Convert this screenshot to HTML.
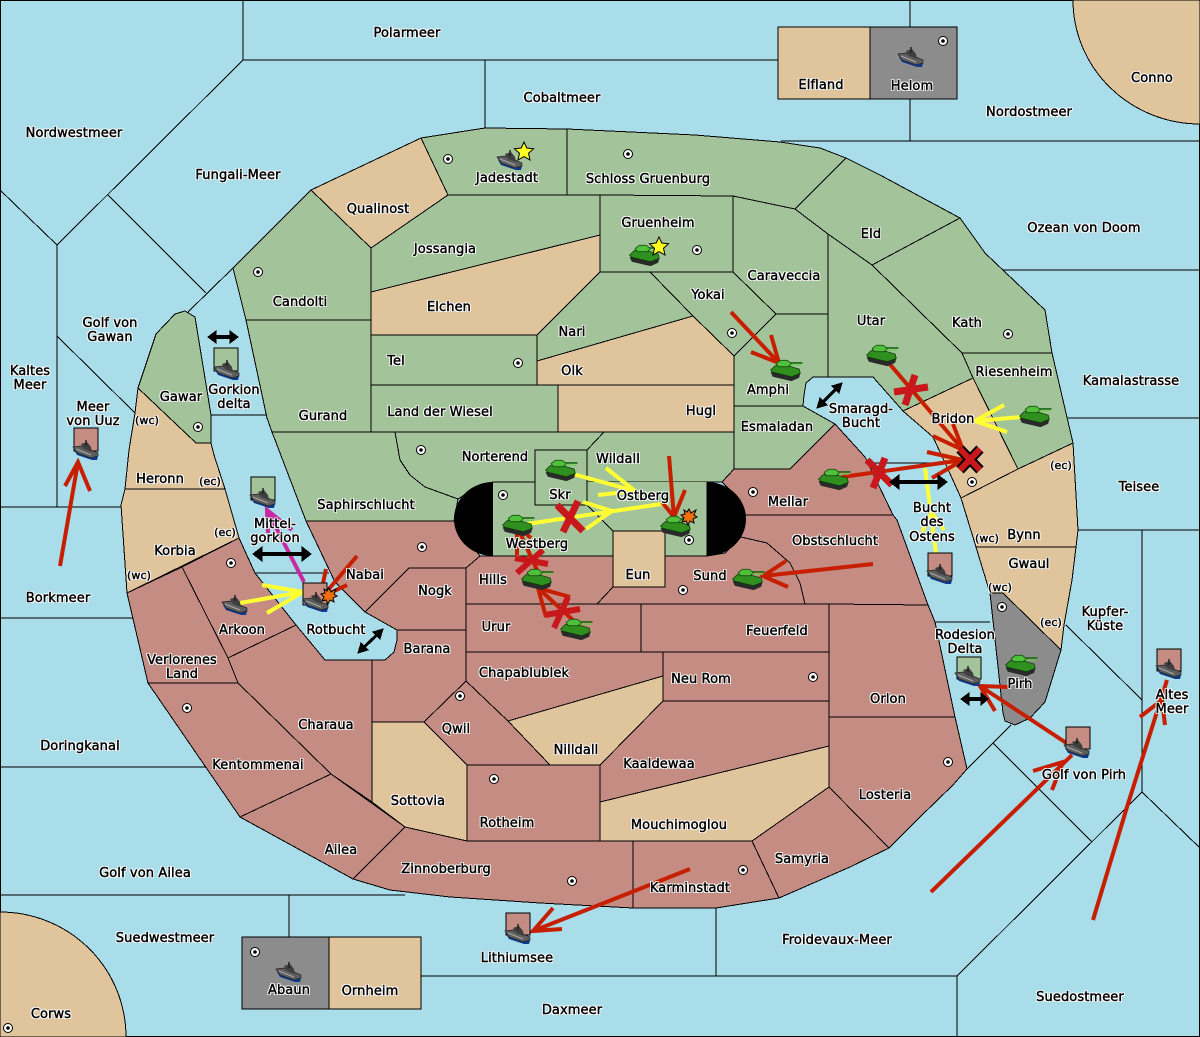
<!DOCTYPE html>
<html><head><meta charset="utf-8"><style>
html,body{margin:0;padding:0;background:#a8dde9}
#m{position:relative;width:1200px;height:1037px;overflow:hidden;font-family:"DejaVu Sans","Liberation Sans",sans-serif}
svg{position:absolute;left:0;top:0}
#l span{position:absolute;transform:translate(-50%,calc(-50% + 2px));font-size:13px;letter-spacing:.1px;line-height:14px;white-space:nowrap;color:#000;-webkit-text-stroke:.45px #000;text-shadow:1px 0 #fff,-1px 0 #fff,0 1px #fff,0 -1px #fff,1px 1px #fff,-1px -1px #fff,1px -1px #fff,-1px 1px #fff}
.g polygon{fill:#a3c49a}.t polygon{fill:#e0c49c}.r polygon{fill:#c48c82}.k polygon{fill:#8c8c8c}
.a path{fill:none;stroke-width:4}
</style></head><body><div id="m">
<svg width="1200" height="1037" viewBox="0 0 1200 1037" xmlns="http://www.w3.org/2000/svg">
<defs>
<g id="sc"><circle r="4.5" fill="#fff" stroke="#000"/><circle r="1.8" fill="#000"/></g>
<g id="tank" transform="scale(1.1)"><polygon points="-14,3 -12,7 5,11 12,8 13,4 0,1" fill="#2a2a2a"/><polygon points="-14,1 -10,-3 -2,-4 12,0 13,4 5,7 -12,3" fill="#2f8f1f" stroke="#0c3a08" stroke-width=".7"/><polygon points="-9,-5 -5,-8 1,-8 5,-5 2,-2 -7,-2" fill="#4fc03a" stroke="#0c3a08" stroke-width=".7"/><path d="M4,-5.5L15,-5.5" stroke="#1c6a14" stroke-width="1.5"/><path d="M4,-3.5L14,-3.5" stroke="#5fd040" stroke-width="1"/></g>
<g id="ship"><polygon points="-12,0 -9,5 6,10 11,10 12,6 -2,2" fill="#0b3a90"/><polygon points="-13,-3 -5,-4 12,3 12,6 5,8 -9,3" fill="#5e5e5e" stroke="#222" stroke-width=".7"/><polygon points="-5,-6 1,-8 5,-3 6,2 -2,-1" fill="#3e3e3e"/><path d="M0,-10V-4" stroke="#222" stroke-width="1.5"/><path d="M-10,-1L5,5" stroke="#aaa" stroke-width="1"/></g>
</defs>
<rect x=".5" y=".5" width="1199" height="1036" fill="#a8dde9" stroke="#000"/>
<g stroke="#000" stroke-width="1" fill="none" shape-rendering="crispEdges">
<path d="M243,0V60H778M243,60L57,245L0,190M57,245V507M57,336L135,413M108,195L206,293M233,268L188,312M211,415H266M0,507H122M0,618H133M0,767H205M0,895H405M289,895V937M485,60V128M910,0V27M910,99V141M781,141H1200M1000,270H1200M1068,418H1200M1078,530H1200M1142,530V792M1066,625L1142,700M1142,792L1200,848M1142,792L957,976M993,743L1092,842M1011,725L967,769M935,622H990M716,908V976M421,976H957M957,976V1037M255,573H329M867,463H948"/>
</g>
<g stroke="#000" stroke-width="1" shape-rendering="crispEdges">
<path d="M0,912A126,125 0 0 1 126,1037H0Z" fill="#e0c49c"/>
<path d="M1073,0A127,124 0 0 0 1200,124V0Z" fill="#e0c49c"/>
<rect x="778" y="27" width="92" height="72" fill="#e0c49c"/><rect x="870" y="27" width="87" height="72" fill="#8c8c8c"/>
<rect x="242" y="937" width="87" height="72" fill="#8c8c8c"/><rect x="329" y="937" width="92" height="72" fill="#e0c49c"/>
<g class="g">
<polygon points="233,268 311,190 371,248 371,320 246,320"/>
<polygon points="246,320 371,320 371,432 272,432 267,418"/>
<polygon points="421,138 485,128 567,129 567,195 448,195"/>
<polygon points="567,129 695,135 780,142 820,148 846,158 795,209 733,196 567,195"/>
<polygon points="846,158 880,175 960,218 872,265 828,234 795,209"/>
<polygon points="828,234 872,265 962,353 973,378 903,411 873,377 828,377"/>
<polygon points="872,265 960,218 985,253 1045,310 1052,353 962,353"/>
<polygon points="962,353 1052,353 1073,443 1018,469 973,378"/>
<polygon points="371,248 448,195 600,195 600,235 371,292"/>
<polygon points="600,195 733,196 733,272 600,272"/>
<polygon points="600,272 650,272 693,316 537,361 537,335"/>
<polygon points="371,335 537,335 537,385 371,385"/>
<polygon points="371,385 558,385 558,432 371,432"/>
<polygon points="650,272 733,272 776,314 734,356 693,316"/>
<polygon points="733,196 795,209 828,234 828,314 776,314 733,272"/>
<polygon points="776,314 828,314 828,377 813,377 806,383 804,395 803,406 734,406 734,356"/>
<polygon points="734,406 803,406 835,424 790,469 734,469"/>
<polygon points="604,432 734,432 734,469 722,482 587,482 587,450"/>
<polygon points="395,432 604,432 587,450 535,450 535,482 493,482 475,488 458,499 425,487 410,475 400,460"/>
<polygon points="272,432 395,432 400,460 410,475 425,487 458,499 454,521 306,521"/>
<polygon points="493,482 707,482 707,556 665,556 665,531 613,531 613,556 493,556" stroke="none"/>
<path d="M493,482H587M707,482V556H665V531H613V556H493M587,505L613,531" fill="none"/>
<polygon points="535,450 587,450 587,505 535,505"/>
<polygon points="138,388 156,334 175,314 185,311 195,317 211,415 211,443 196,443"/>
</g>
<g class="t">
<polygon points="311,190 421,138 448,195 371,248"/>
<polygon points="371,292 600,235 600,272 537,335 371,335"/>
<polygon points="537,361 693,316 734,356 734,385 537,385"/>
<polygon points="558,385 734,385 734,432 558,432"/>
<polygon points="903,411 973,378 1018,469 961,498 947,467 933,437"/>
<polygon points="961,498 1018,469 1073,443 1078,530 1076,547 976,547"/>
<polygon points="976,547 1076,547 1072,580 1064,625 1061,650 1003,593 990,593"/>
<polygon points="138,388 196,443 211,443 214,455 225,489 125,489 129,450 135,413"/>
<polygon points="125,489 225,489 239,538 127,593 121,505"/>
<polygon points="613,531 665,531 665,587 613,587"/>
<polygon points="508,721 663,676 663,701 600,765 550,765"/>
<polygon points="372,722 424,722 467,765 467,841 405,827 372,802"/>
<polygon points="600,802 829,746 829,787 752,841 600,841"/>
</g>
<g class="k"><polygon points="990,593 1003,593 1061,650 1045,702 1030,718 1015,725 1005,721 1003,713"/></g>
<g class="r">
<polygon points="306,521 454,521 480,556 466,568 409,568 365,612 335,582"/>
<polygon points="365,612 409,568 466,568 466,630 397,630"/>
<polygon points="466,568 480,556 613,556 613,587 597,604 466,604"/>
<polygon points="597,604 613,587 665,587 665,556 707,556 725,553 741,537 767,543 790,563 800,583 805,604"/>
<polygon points="734,469 790,469 835,424 865,457 893,515 745,515 740,500 722,482"/>
<polygon points="745,515 893,515 897,520 928,605 805,604 800,583 790,563 767,543 741,537"/>
<polygon points="466,604 641,604 641,652 466,652"/>
<polygon points="641,604 829,604 829,652 641,652"/>
<polygon points="829,604 928,605 935,622 955,717 829,717"/>
<polygon points="829,717 955,717 967,769 953,785 920,817 900,837 889,848 829,787"/>
<polygon points="397,630 466,630 466,681 424,722 372,722 372,660 385,660 394,652 397,640"/>
<polygon points="466,652 663,652 663,676 508,721 466,681"/>
<polygon points="663,652 829,652 829,701 663,701"/>
<polygon points="466,681 508,721 550,765 467,765 424,722"/>
<polygon points="467,765 600,765 600,841 467,841"/>
<polygon points="663,701 829,701 829,746 600,802 600,765"/>
<polygon points="829,787 889,848 850,867 779,898 752,841"/>
<polygon points="633,841 752,841 779,898 716,908 633,908"/>
<polygon points="405,827 467,841 633,841 633,908 540,903 450,897 390,890 353,879"/>
<polygon points="331,774 405,827 353,879 240,817"/>
<polygon points="148,683 238,683 331,774 240,817"/>
<polygon points="228,658 296,625 325,660 372,660 372,802 331,774 238,683"/>
<polygon points="182,567 239,538 255,573 296,625 228,658"/>
<polygon points="127,593 182,567 228,658 238,683 148,683"/>
</g>
</g>
<path d="M493,482A39,37 0 0 0 493,556ZM707,482A39,37 0 0 1 707,556Z" fill="#000"/>
<g>
<use href="#sc" x="448" y="159"/><use href="#sc" x="628" y="154"/><use href="#sc" x="697" y="250"/><use href="#sc" x="258" y="272"/><use href="#sc" x="518" y="363"/><use href="#sc" x="732" y="333"/><use href="#sc" x="1008" y="334"/><use href="#sc" x="198" y="427"/><use href="#sc" x="421" y="450"/><use href="#sc" x="503" y="495"/><use href="#sc" x="689" y="540"/><use href="#sc" x="753" y="492"/><use href="#sc" x="972" y="482"/><use href="#sc" x="1002" y="607"/><use href="#sc" x="422" y="547"/><use href="#sc" x="231" y="563"/><use href="#sc" x="683" y="590"/><use href="#sc" x="187" y="708"/><use href="#sc" x="460" y="696"/><use href="#sc" x="813" y="677"/><use href="#sc" x="494" y="779"/><use href="#sc" x="948" y="762"/><use href="#sc" x="743" y="870"/><use href="#sc" x="572" y="881"/><use href="#sc" x="943" y="41"/><use href="#sc" x="255" y="952"/><use href="#sc" x="8" y="1028"/>
</g>
<g class="a">
<g stroke="#ffff33">
<path d="M573,474L635,491M606,468L635,491L598,495"/>
<path d="M527,524L668,503M583,502L612,511L586,529"/>
<path d="M1022,417L975,421M1004,405L975,421L1007,432"/>
<path d="M936,553L925,468M922,532L932,513L944,530"/>
<path d="M240,603L303,592M262,585L303,592L267,613"/>
</g>
<path stroke="#c828a0" d="M304,582L267,510M268,533L267,510L292,530"/>
<g stroke="#c81e00">
<path d="M690,869L533,931M553,908L533,931L562,929"/>
<path d="M60,566L78,462M65,486L78,462L90,491"/>
<path d="M731,312L779,363M771,335L779,363L751,352"/>
<path d="M888,362L963,450M953,424L963,450L933,436"/>
<path d="M842,477L963,460M927,452L963,460L932,478"/>
<path d="M873,564L763,576M786,561L763,576L788,587"/>
<path d="M669,456L674,517M685,490L674,517L662,502"/>
<path d="M537,570L517,526M517,555L517,526L531,538"/>
<path d="M575,622L538,588M546,617L538,588L570,597"/>
<path d="M357,556L328,590M326,569L322,588M347,585L328,594"/>
<path d="M1077,750L980,686M1008,687L980,686L995,711"/>
<path d="M931,892L1072,755M1033,771L1063,762L1052,790"/>
<path d="M1093,920L1127,807L1167,680M1140,717L1162,700L1165,725"/>
</g>
<g stroke="#c8181c" style="stroke-width:7">
<path style="stroke-width:7" d="M915,375L905,405M894,392L928,387"/>
<path style="stroke-width:7" d="M885,458L873,488M867,460L892,485"/>
<path style="stroke-width:6" d="M543,550L517,573M515,558L548,564"/>
<path style="stroke-width:6" d="M568,597L554,628M545,615L580,609"/>
<path style="stroke-width:7" d="M578,501L563,532M557,505L583,531"/>
</g>
<path stroke="#000" style="stroke-width:10" d="M960,449L980,470M980,449L960,470"/>
<path stroke="#c8181c" style="stroke-width:6" d="M960,449L980,470M980,449L960,470"/>
</g>
<g stroke="#000" fill="#000" shape-rendering="crispEdges">
<path d="M214,337H232" stroke-width="4"/><polygon points="208,337 216,331 216,343"/><polygon points="238,337 230,331 230,343"/>
<path d="M260,554H305" stroke-width="4"/><polygon points="253,554 262,547 262,561"/><polygon points="311,554 302,547 302,561"/>
<path d="M897,482H941" stroke-width="4"/><polygon points="890,482 899,475 899,489"/><polygon points="947,482 938,475 938,489"/>
<path d="M967,699H983" stroke-width="4"/><polygon points="961,699 969,693 969,705"/><polygon points="988,699 981,693 981,705"/>
<path d="M820,405L839,386" stroke-width="3" fill="none"/><polygon points="817,408 820,398 827,405"/><polygon points="842,383 839,393 832,386"/>
<path d="M361,650L380,632" stroke-width="3" fill="none"/><polygon points="358,653 361,643 368,650"/><polygon points="383,629 380,639 373,632"/>
</g>
<g stroke="#000">
<rect x="214" y="348" width="24" height="23" fill="#a3c49a"/>
<rect x="74" y="428" width="24" height="23" fill="#c48c82"/>
<rect x="251" y="477" width="24" height="23" fill="#a3c49a"/>
<rect x="303" y="583" width="24" height="22" fill="#c48c82"/>
<rect x="928" y="553" width="24" height="23" fill="#c48c82"/>
<rect x="957" y="657" width="24" height="22" fill="#a3c49a"/>
<rect x="1066" y="727" width="24" height="22" fill="#c48c82"/>
<rect x="1157" y="649" width="24" height="22" fill="#c48c82"/>
<rect x="506" y="913" width="24" height="22" fill="#c48c82"/>
</g>
<g>
<use href="#ship" x="510" y="160"/><use href="#ship" x="227" y="370"/><use href="#ship" x="86" y="450"/><use href="#ship" x="263" y="498"/><use href="#ship" x="235" y="605"/><use href="#ship" x="316" y="602"/><use href="#ship" x="940" y="574"/><use href="#ship" x="968" y="676"/><use href="#ship" x="1077" y="748"/><use href="#ship" x="1169" y="669"/><use href="#ship" x="518" y="934"/><use href="#ship" x="911" y="57"/><use href="#ship" x="289" y="972"/>
<use href="#tank" x="561" y="469"/><use href="#tank" x="518" y="524"/><use href="#tank" x="676" y="525"/><use href="#tank" x="537" y="578"/><use href="#tank" x="576" y="628"/><use href="#tank" x="748" y="578"/><use href="#tank" x="882" y="354"/><use href="#tank" x="1035" y="415"/><use href="#tank" x="834" y="478"/><use href="#tank" x="786" y="369"/><use href="#tank" x="645" y="254"/><use href="#tank" x="1021" y="664"/>
</g>
<g stroke="#000" stroke-width="1">
<polygon fill="#ffff22" points="524,142 526.8,148 533.5,148.8 528.5,153.3 530,160 524,156.6 518,160 519.5,153.3 514.5,148.8 521.2,148"/>
<polygon fill="#ffff22" points="659,237 661.8,243 668.5,243.8 663.5,248.3 665,255 659,251.6 653,255 654.5,248.3 649.5,243.8 656.2,243"/>
<polygon fill="#f07010" points="689,509 691,513 696,510 694,515 697,517 693,519 694,523 690,521 688,525 686,521 682,522 684,518 681,515 685,514 684,510 687,512"/>
<polygon fill="#f07010" points="329,588 331,592 336,589 334,594 337,596 333,598 334,602 330,600 328,604 326,600 322,601 324,597 321,594 325,593 324,589 327,591"/>
</g>
</svg>
<div id="l">
<span style="left:407px;top:32px">Polarmeer</span><span style="left:562px;top:97px">Cobaltmeer</span><span style="left:821px;top:84px">Elfland</span><span style="left:912px;top:85px">Helom</span><span style="left:1152px;top:77px">Conno</span><span style="left:1029px;top:111px">Nordostmeer</span><span style="left:74px;top:132px">Nordwestmeer</span><span style="left:238px;top:174px">Fungali-Meer</span><span style="left:378px;top:208px">Qualinost</span><span style="left:507px;top:177px">Jadestadt</span><span style="left:648px;top:178px">Schloss Gruenburg</span><span style="left:658px;top:222px">Gruenheim</span><span style="left:871px;top:233px">Eld</span><span style="left:1084px;top:227px">Ozean von Doom</span><span style="left:445px;top:248px">Jossangia</span><span style="left:784px;top:275px">Caraveccia</span><span style="left:708px;top:294px">Yokai</span><span style="left:300px;top:301px">Candolti</span><span style="left:449px;top:306px">Elchen</span><span style="left:871px;top:320px">Utar</span><span style="left:967px;top:322px">Kath</span><span style="left:572px;top:331px">Nari</span><span style="left:110px;top:322px">Golf von</span><span style="left:110px;top:336px">Gawan</span><span style="left:396px;top:360px">Tel</span><span style="left:572px;top:370px">Olk</span><span style="left:1014px;top:371px">Riesenheim</span><span style="left:30px;top:370px">Kaltes</span><span style="left:30px;top:384px">Meer</span><span style="left:1131px;top:380px">Kamalastrasse</span><span style="left:768px;top:389px">Amphi</span><span style="left:181px;top:396px">Gawar</span><span style="left:234px;top:389px">Gorkion</span><span style="left:234px;top:403px">delta</span><span style="left:93px;top:406px">Meer</span><span style="left:93px;top:420px">von Uuz</span><span style="left:147px;top:419px;font-size:11px">(wc)</span><span style="left:701px;top:410px">Hugl</span><span style="left:440px;top:411px">Land der Wiesel</span><span style="left:323px;top:415px">Gurand</span><span style="left:861px;top:408px">Smaragd-</span><span style="left:861px;top:422px">Bucht</span><span style="left:953px;top:418px">Bridon</span><span style="left:777px;top:426px">Esmaladan</span><span style="left:495px;top:456px">Norterend</span><span style="left:618px;top:458px">Wildall</span><span style="left:1061px;top:464px;font-size:11px">(ec)</span><span style="left:160px;top:478px">Heronn</span><span style="left:210px;top:480px;font-size:11px">(ec)</span><span style="left:1139px;top:486px">Teisee</span><span style="left:560px;top:494px">Skr</span><span style="left:643px;top:495px">Ostberg</span><span style="left:788px;top:501px">Mellar</span><span style="left:366px;top:504px">Saphirschlucht</span><span style="left:932px;top:507px">Bucht</span><span style="left:932px;top:521px">des</span><span style="left:932px;top:536px">Ostens</span><span style="left:275px;top:523px">Mittel-</span><span style="left:275px;top:537px">gorkion</span><span style="left:225px;top:531px;font-size:11px">(ec)</span><span style="left:1024px;top:534px">Bynn</span><span style="left:987px;top:537px;font-size:11px">(wc)</span><span style="left:835px;top:540px">Obstschlucht</span><span style="left:537px;top:543px">Westberg</span><span style="left:175px;top:550px">Korbia</span><span style="left:1029px;top:563px">Gwaul</span><span style="left:139px;top:574px;font-size:11px">(wc)</span><span style="left:493px;top:579px">Hills</span><span style="left:638px;top:574px">Eun</span><span style="left:710px;top:575px">Sund</span><span style="left:365px;top:574px">Nabai</span><span style="left:58px;top:597px">Borkmeer</span><span style="left:435px;top:590px">Nogk</span><span style="left:1000px;top:586px;font-size:11px">(wc)</span><span style="left:1105px;top:611px">Kupfer-</span><span style="left:1105px;top:625px">Küste</span><span style="left:1051px;top:621px;font-size:11px">(ec)</span><span style="left:496px;top:626px">Urur</span><span style="left:777px;top:630px">Feuerfeld</span><span style="left:336px;top:629px">Rotbucht</span><span style="left:242px;top:629px">Arkoon</span><span style="left:965px;top:634px">Rodesion</span><span style="left:965px;top:648px">Delta</span><span style="left:427px;top:648px">Barana</span><span style="left:182px;top:659px">Verlorenes</span><span style="left:182px;top:673px">Land</span><span style="left:524px;top:672px">Chapablublek</span><span style="left:701px;top:678px">Neu Rom</span><span style="left:1020px;top:683px">Pirh</span><span style="left:1172px;top:694px">Altes</span><span style="left:1172px;top:708px">Meer</span><span style="left:888px;top:698px">Orlon</span><span style="left:326px;top:724px">Charaua</span><span style="left:456px;top:728px">Qwil</span><span style="left:80px;top:745px">Doringkanal</span><span style="left:576px;top:749px">Nilldall</span><span style="left:659px;top:763px">Kaaldewaa</span><span style="left:258px;top:764px">Kentommenai</span><span style="left:1084px;top:774px">Golf von Pirh</span><span style="left:885px;top:794px">Losteria</span><span style="left:418px;top:800px">Sottovia</span><span style="left:507px;top:822px">Rotheim</span><span style="left:679px;top:824px">Mouchimoglou</span><span style="left:341px;top:849px">Ailea</span><span style="left:802px;top:858px">Samyria</span><span style="left:446px;top:868px">Zinnoberburg</span><span style="left:145px;top:872px">Golf von Ailea</span><span style="left:690px;top:887px">Karminstadt</span><span style="left:837px;top:939px">Froidevaux-Meer</span><span style="left:165px;top:937px">Suedwestmeer</span><span style="left:517px;top:957px">Lithiumsee</span><span style="left:289px;top:989px">Abaun</span><span style="left:370px;top:990px">Ornheim</span><span style="left:1080px;top:996px">Suedostmeer</span><span style="left:572px;top:1009px">Daxmeer</span><span style="left:51px;top:1013px">Corws</span>
</div>
</div></body></html>
